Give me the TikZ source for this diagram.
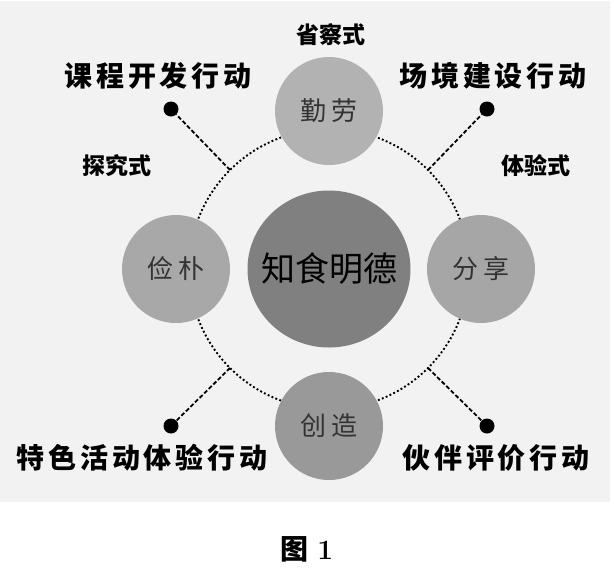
\documentclass[tikz,border=0pt]{standalone}
\usepackage{fontspec}
\newfontfamily\cjk{Noto Sans CJK SC}
\newfontfamily\cjkwide{Noto Sans CJK SC}[LetterSpace=14]
\newfontfamily\cjkspaced{Noto Sans CJK SC}[LetterSpace=18]
\usetikzlibrary{positioning,calc}

\begin{document}
\begin{tikzpicture}[x=1pt,y=-1pt,
    ring/.style={line width=1.9pt,dash pattern=on 1.9pt off 2.3pt},
    spoke/.style={line width=1.8pt,dash pattern=on 4.2pt off 2.2pt},
    virtue/.style={circle,minimum size=108pt,inner sep=0pt,text=black!80,
        font=\cjkspaced\fontsize{26}{26}\selectfont},
    action/.style={inner sep=0pt,font=\cjkwide\bfseries\fontsize{28}{28}\selectfont},
    mode/.style={inner sep=0pt,font=\cjk\bfseries\fontsize{23}{23}\selectfont},
    pin/.style={circle,fill=black,minimum size=15pt,inner sep=0pt}]
    \useasboundingbox (0,0) rectangle (614,574);
    \fill[black!5] (0,1) rectangle (610,502);

    \coordinate (core) at (329,269);
    \fill[black!50] (core) ellipse[x radius=81.5pt,y radius=78.5pt];
    \node[inner sep=0pt,font=\cjk\fontsize{34}{34}\selectfont] (heart) at (core) {知食明德};
    \draw[ring] (core) circle[radius=140pt];

    \coordinate (k1) at ($(core)+(-99,-99)$);
    \coordinate (k2) at ($(core)+(99,-99)$);
    \coordinate (k3) at ($(core)+(-99,99)$);
    \coordinate (k4) at ($(core)+(99,99)$);

    \node[virtue,fill=black!30] (qinlao) at (329,111) {勤劳};
    \node[virtue,fill=black!34] (jianpu) at (176,269) {俭朴};
    \node[virtue,fill=black!35] (fenxiang) at (481,269) {分享};
    \node[virtue,fill=black!40] (chuangzao) at (329,426) {创造};

    \node[pin] (p1) at (171,109) {};
    \node[pin] (p2) at (487,109) {};
    \node[pin] (p3) at (171,426) {};
    \node[pin] (p4) at (487,426) {};

    \draw[spoke] (k1) -- (p1);
    \draw[spoke] (k2) -- (p2);
    \draw[spoke] (k3) -- (p3);
    \draw[spoke] (k4) -- (p4);

    \node[action] (a1) at (158,76) {课程开发行动};
    \node[action] (a2) at (493,76) {场境建设行动};
    \node[action] (a3) at (142,458) {特色活动体验行动};
    \node[action] (a4) at (496,458) {伙伴评价行动};

    \node[mode] (m1) at (331,35) {省察式};
    \node[mode] (m2) at (117,166) {探究式};
    \node[mode] (m3) at (536,166) {体验式};

    \node[font=\fontsize{28}{28}\selectfont] (caption) at (307,549)
        {{\cjk\bfseries 图} \textbf{1}};
\end{tikzpicture}
\end{document}
